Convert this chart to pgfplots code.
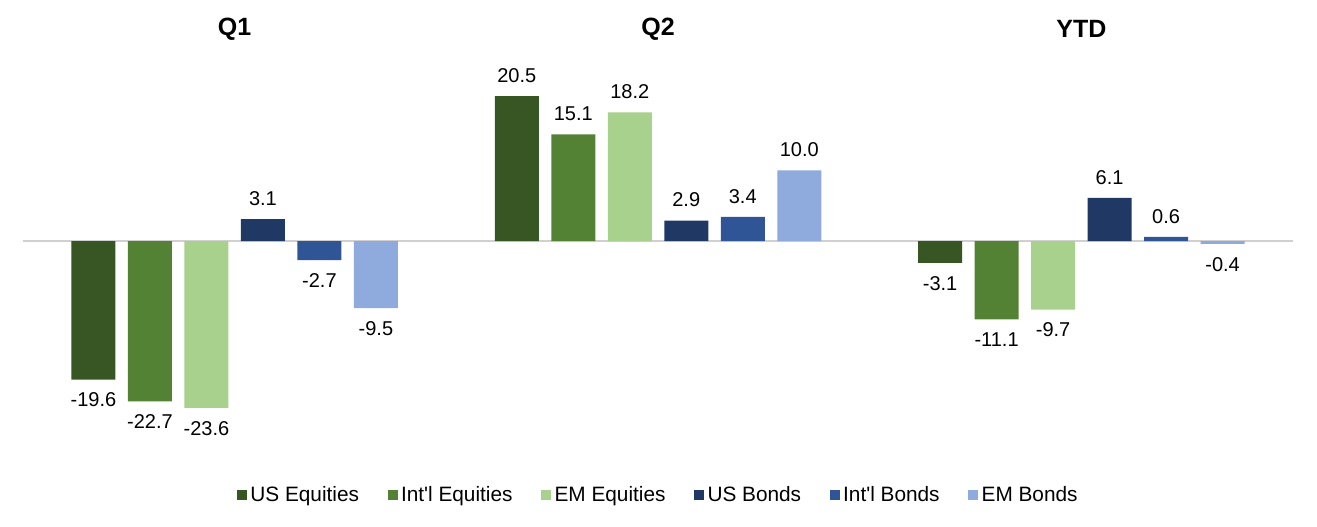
\documentclass[border=0pt]{standalone}
\usepackage{fontspec}
\setmainfont{Liberation Sans}
\usepackage{pgfplots}
\pgfplotsset{compat=1.18}
\definecolor{cUSE}{HTML}{375623}
\definecolor{cIE}{HTML}{548235}
\definecolor{cEME}{HTML}{A9D18E}
\definecolor{cUSB}{HTML}{203864}
\definecolor{cIB}{HTML}{2F5597}
\definecolor{cEMB}{HTML}{8FAADC}
\definecolor{zline}{HTML}{D0D0D0}
\begin{document}
\begin{tikzpicture}
\begin{axis}[
  scale only axis, width=635pt, height=212pt,
  xmin=-0.5, xmax=2.5, ymin=-30, ymax=30,
  axis line style={draw=none}, xtick=\empty, ytick=\empty,
  ybar=6.25pt, bar width=22pt,
  clip=false,
  nodes near coords,
  every node near coord/.append style={font=\fontsize{10}{12}\selectfont, inner sep=6.5pt,
     /pgf/number format/fixed, /pgf/number format/fixed zerofill,
     /pgf/number format/precision=1, /pgf/number format/assume math mode=true},
  legend columns=6,
  legend style={draw=none, at={(0.5,-0.099)}, anchor=center,
     font=\fontsize{10.4}{12}\selectfont,
     nodes={inner sep=0.75pt},
     /tikz/every odd column/.append style={column sep=1pt},
     /tikz/every even column/.append style={column sep=13.5pt}},
  legend image code/.code={\fill[#1] (0pt,-2.5pt) rectangle (5pt,2.5pt);},
]
\draw[color=zline, line width=0.75pt] (axis cs:-0.5,0) -- (axis cs:2.5,0);
\addplot[fill=cUSE, draw=none] coordinates {(0,-19.6) (1,20.5) (2,-3.1)};
\addplot[fill=cIE, draw=none] coordinates {(0,-22.7) (1,15.1) (2,-11.1)};
\addplot[fill=cEME, draw=none] coordinates {(0,-23.6) (1,18.2) (2,-9.7)};
\addplot[fill=cUSB, draw=none] coordinates {(0,3.1) (1,2.9) (2,6.1)};
\addplot[fill=cIB, draw=none] coordinates {(0,-2.7) (1,3.4) (2,0.6)};
\addplot[fill=cEMB, draw=none] coordinates {(0,-9.5) (1,10.0) (2,-0.4)};
\legend{US Equities, Int\textquotesingle l Equities, EM Equities, US Bonds, Int\textquotesingle l Bonds, EM Bonds}
\node[font=\bfseries\fontsize{12.5}{14}\selectfont] at (axis cs:0,30) {Q1};
\node[font=\bfseries\fontsize{12.5}{14}\selectfont] at (axis cs:1,30) {Q2};
\node[font=\bfseries\fontsize{12.5}{14}\selectfont] at (axis cs:2,30) {YTD};
\end{axis}
\pgfresetboundingbox
\path ([shift={(-11.5pt,-36.5pt)}]current axis.south west) rectangle ([shift={(12pt,14.5pt)}]current axis.north east);
\end{tikzpicture}
\end{document}
